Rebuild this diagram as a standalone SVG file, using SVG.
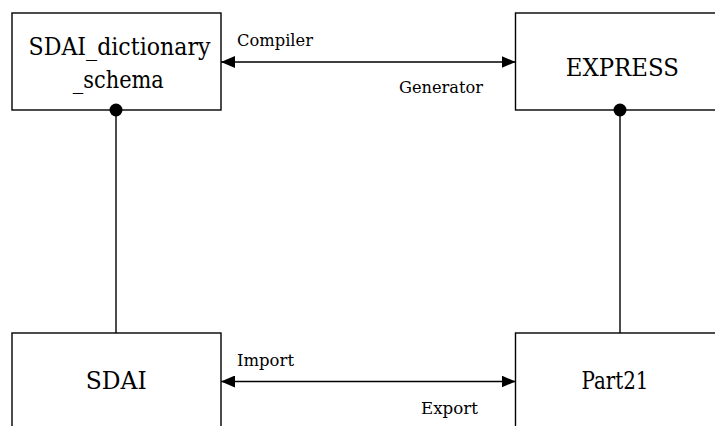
<svg xmlns="http://www.w3.org/2000/svg" width="715" height="426" viewBox="0 0 715 426">
  <defs>
    <marker id="arrow" viewBox="0 0 14 12" refX="14" refY="6" markerWidth="14" markerHeight="12" markerUnits="userSpaceOnUse" orient="auto-start-reverse">
      <path d="M0,0 L14,6 L0,12 Z" fill="#000"/>
    </marker>
  </defs>
  <style>
    .box { fill: #fff; stroke: #000; stroke-width: 1.4; }
    .node { font-family: "DejaVu Serif", "Liberation Serif", serif; font-size: 24px; fill: #000; text-anchor: middle; }
    .lbl { font-family: "DejaVu Serif", "Liberation Serif", serif; font-size: 17px; fill: #000; }
    .conn { stroke: #000; stroke-width: 1.4; fill: none; }
    .dot { fill: #000; }
  </style>
  <rect width="715" height="426" fill="#fff"/>

  <g id="sdai-dictionary-schema">
    <rect class="box" x="12" y="13" width="209" height="97"/>
    <text class="node" x="119.5" y="55" textLength="182" lengthAdjust="spacingAndGlyphs">SDAI_dictionary</text>
    <text class="node" x="118.3" y="88" textLength="91" lengthAdjust="spacingAndGlyphs">_schema</text>
  </g>

  <g id="express">
    <rect class="box" x="515.5" y="13" width="209" height="97"/>
    <text class="node" x="622.3" y="76" textLength="113" lengthAdjust="spacingAndGlyphs">EXPRESS</text>
  </g>

  <g id="sdai">
    <rect class="box" x="12" y="333" width="209" height="110"/>
    <text class="node" x="116.3" y="389" textLength="61" lengthAdjust="spacingAndGlyphs">SDAI</text>
  </g>

  <g id="part21">
    <rect class="box" x="515.5" y="333" width="209" height="110"/>
    <text class="node" x="615" y="389" textLength="67" lengthAdjust="spacingAndGlyphs">Part21</text>
  </g>

  <g id="connectors">
    <line class="conn" x1="116" y1="110" x2="116" y2="333"/>
    <line class="conn" x1="620" y1="110" x2="620" y2="333"/>
    <circle class="dot" cx="116" cy="110" r="6.5"/>
    <circle class="dot" cx="620" cy="110" r="6.5"/>
    <line class="conn" x1="221" y1="62" x2="515.5" y2="62" marker-start="url(#arrow)" marker-end="url(#arrow)"/>
    <line class="conn" x1="221" y1="381.5" x2="515.5" y2="381.5" marker-start="url(#arrow)" marker-end="url(#arrow)"/>
    <text class="lbl" x="237" y="46" textLength="76" lengthAdjust="spacingAndGlyphs">Compiler</text>
    <text class="lbl" x="399" y="93" textLength="84" lengthAdjust="spacingAndGlyphs">Generator</text>
    <text class="lbl" x="237" y="366" textLength="57" lengthAdjust="spacingAndGlyphs">Import</text>
    <text class="lbl" x="421" y="414" textLength="57" lengthAdjust="spacingAndGlyphs">Export</text>
  </g>
</svg>
